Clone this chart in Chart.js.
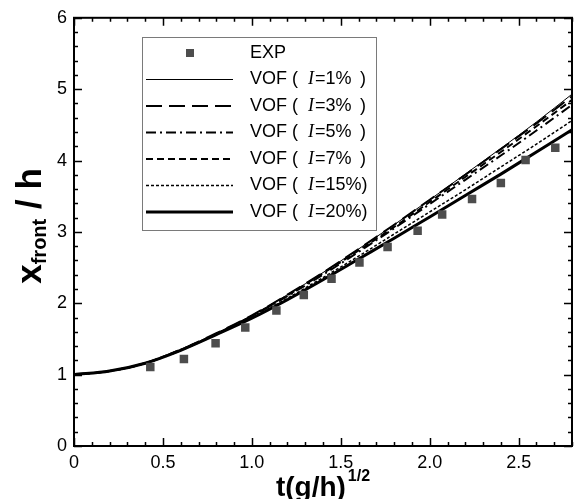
<!DOCTYPE html>
<html>
<head>
<meta charset="utf-8">
<script src="https://cdn.jsdelivr.net/npm/chart.js@4"></script>
<style>
  html, body { margin: 0; padding: 0; background: #fff; }
</style>
</head>
<body>
<canvas id="front-chart" width="578" height="499"></canvas>
<script>
// x positions where the VOF curves were read
const tVals = [0, 0.2, 0.4, 0.6, 0.8, 1.0, 1.2, 1.4, 1.6, 1.8, 2.0, 2.2, 2.4, 2.6, 2.8];
// VOF curves, one per inflow turbulence intensity
const vof1  = [1.00, 1.05, 1.16, 1.35, 1.58, 1.83, 2.12, 2.43, 2.76, 3.10, 3.45, 3.81, 4.17, 4.54, 4.93];
const vof3  = [1.00, 1.05, 1.16, 1.35, 1.58, 1.83, 2.12, 2.43, 2.76, 3.10, 3.45, 3.80, 4.16, 4.52, 4.90];
const vof5  = [1.00, 1.05, 1.16, 1.34, 1.57, 1.82, 2.10, 2.40, 2.72, 3.05, 3.39, 3.73, 4.07, 4.42, 4.78];
const vof7  = [1.00, 1.05, 1.16, 1.35, 1.57, 1.82, 2.11, 2.42, 2.74, 3.07, 3.42, 3.77, 4.12, 4.48, 4.85];
const vof15 = [1.00, 1.05, 1.16, 1.34, 1.56, 1.80, 2.07, 2.36, 2.66, 2.97, 3.28, 3.59, 3.91, 4.23, 4.56];
const vof20 = [1.00, 1.05, 1.16, 1.34, 1.56, 1.79, 2.05, 2.33, 2.62, 2.91, 3.21, 3.51, 3.81, 4.12, 4.43];
// experiment
const expT = [0.429, 0.618, 0.796, 0.963, 1.138, 1.292, 1.448, 1.605, 1.763, 1.932, 2.07, 2.238, 2.40, 2.539, 2.706];
const expX = [1.108, 1.219, 1.44, 1.662, 1.898, 2.115, 2.345, 2.57, 2.79, 3.015, 3.245, 3.46, 3.684, 4.007, 4.18];

const xTicks = [0, 0.5, 1, 1.5, 2, 2.5];
const yTicks = [0, 1, 2, 3, 4, 5, 6];
const intensities = ['1%', '3%', '5%', '7%', '15%', '20%'];

const FONT = '"Liberation Sans", Arial, sans-serif';

const toPts = (xs, ys) => xs.map((v, i) => ({ x: v, y: ys[i] }));

const vofLine = (name, vals, width, dash) => ({
    label: 'VOF ( I=' + name + ' )',
    type: 'line',
    data: toPts(tVals, vals),
    borderColor: '#000',
    borderWidth: width,
    borderDash: dash,
    pointRadius: 0,
    fill: false,
    cubicInterpolationMode: 'monotone'
});

const datasets = [
    {
        label: 'EXP',
        type: 'scatter',
        data: toPts(expT, expX),
        pointStyle: 'rect',
        pointRadius: 6,
        backgroundColor: '#4d4d4d',
        borderColor: '#4d4d4d',
        borderWidth: 0
    },
    vofLine(intensities[0], vof1, 1, []),
    vofLine(intensities[1], vof3, 2, [16, 7]),
    vofLine(intensities[2], vof5, 2, [10, 4, 2, 4]),
    vofLine(intensities[3], vof7, 2, [7, 4]),
    vofLine(intensities[4], vof15, 1.5, [3, 2]),
    vofLine(intensities[5], vof20, 3, [])
];

// ticks pointing inward on all four sides, frame, axis titles and legend
const framePlugin = {
    id: 'frame',
    afterDraw(chart) {
        const { ctx, chartArea: a, scales: { x, y } } = chart;
        ctx.save();
        ctx.strokeStyle = '#000';
        ctx.lineWidth = 1.5;
        ctx.setLineDash([]);
        ctx.beginPath();
        for (let i = 0; i <= 28; i++) {
            const px = Math.round(x.getPixelForValue(i / 10)) + 0.5;
            const len = i % 5 === 0 ? 8 : 4;
            ctx.moveTo(px, a.bottom); ctx.lineTo(px, a.bottom - len);
            ctx.moveTo(px, a.top); ctx.lineTo(px, a.top + len);
        }
        for (let i = 0; i <= 30; i++) {
            const py = Math.round(y.getPixelForValue(i / 5)) + 0.5;
            const len = i % 5 === 0 ? 8 : 4;
            ctx.moveTo(a.left, py); ctx.lineTo(a.left + len, py);
            ctx.moveTo(a.right, py); ctx.lineTo(a.right - len, py);
        }
        ctx.stroke();
        ctx.lineWidth = 2;
        ctx.strokeRect(a.left, a.top, a.right - a.left, a.bottom - a.top);

        // x title: t(g/h)^(1/2)
        ctx.fillStyle = '#000';
        ctx.textBaseline = 'alphabetic';
        ctx.textAlign = 'left';
        ctx.font = 'bold 28px ' + FONT;
        const xMain = 't(g/h)';
        const wMain = ctx.measureText(xMain).width;
        ctx.font = 'bold 16px ' + FONT;
        const wSup = ctx.measureText('1/2').width;
        let tx = (a.left + a.right) / 2 - (wMain + wSup + 2) / 2;
        ctx.font = 'bold 28px ' + FONT;
        ctx.fillText(xMain, tx, 496);
        ctx.font = 'bold 16px ' + FONT;
        ctx.fillText('1/2', tx + wMain + 2, 481);

        // y title: x_front / h
        ctx.save();
        ctx.translate(41, 226);
        ctx.rotate(-Math.PI / 2);
        ctx.font = 'bold 35px ' + FONT;
        const wx = ctx.measureText('x').width;
        const wh = ctx.measureText(' / h').width;
        ctx.font = 'bold 20px ' + FONT;
        const wf = ctx.measureText('front').width;
        let yx = -(wx + wf + wh) / 2;
        ctx.font = 'bold 35px ' + FONT;
        ctx.fillText('x', yx, 0);
        ctx.font = 'bold 20px ' + FONT;
        ctx.fillText('front', yx + wx, 5);
        ctx.font = 'bold 35px ' + FONT;
        ctx.fillText(' / h', yx + wx + wf, 0);
        ctx.restore();

        // legend
        const bx = 142, by = 37, bw = 234, bh = 193;
        ctx.fillStyle = '#fff';
        ctx.fillRect(bx, by, bw, bh);
        ctx.strokeStyle = '#7a7a7a';
        ctx.lineWidth = 1;
        ctx.strokeRect(bx + 0.5, by + 0.5, bw, bh);
        const rowY = i => 53 + i * 26.5;
        chart.data.datasets.forEach((ds, i) => {
            const ry = rowY(i);
            ctx.fillStyle = '#000';
            ctx.textBaseline = 'middle';
            ctx.font = '18px ' + FONT;
            if (i === 0) {
                ctx.fillStyle = ds.backgroundColor;
                ctx.fillRect(186, ry - 4, 8, 8);
                ctx.fillStyle = '#000';
                ctx.fillText('EXP', 250, ry);
                return;
            }
            ctx.strokeStyle = '#000';
            ctx.lineWidth = ds.borderWidth;
            ctx.setLineDash(ds.borderDash);
            ctx.beginPath();
            ctx.moveTo(146, ry);
            ctx.lineTo(233, ry);
            ctx.stroke();
            ctx.setLineDash([]);
            ctx.fillText('VOF (', 250, ry);
            ctx.font = 'italic 18px "Liberation Serif", serif';
            ctx.fillText('I', 308, ry);
            const wi = ctx.measureText('I').width;
            ctx.font = '18px ' + FONT;
            const rest = '=' + intensities[i - 1];
            ctx.fillText(rest, 309 + wi, ry);
            const end = 309 + wi + ctx.measureText(rest).width;
            ctx.fillText(')', Math.max(360, end), ry);
        });
        ctx.restore();
    }
};

const frontChart = new Chart(document.getElementById('front-chart'), {
    type: 'line',
    data: { datasets: datasets },
    options: {
        responsive: false,
        devicePixelRatio: 1,
        animation: false,
        layout: { padding: { left: 0, top: 13, right: 3, bottom: 0 } },
        scales: {
            x: {
                type: 'linear',
                min: 0,
                max: 2.8,
                afterBuildTicks: s => { s.ticks = xTicks.map(v => ({ value: v })); },
                afterFit: s => { s.height = 53; },
                grid: { display: false, drawTicks: false },
                border: { display: false },
                ticks: { padding: 6, color: '#000', font: { family: FONT, size: 18 } }
            },
            y: {
                type: 'linear',
                min: 0,
                max: 6,
                afterBuildTicks: s => { s.ticks = yTicks.map(v => ({ value: v })); },
                afterFit: s => { s.width = 74; },
                grid: { display: false, drawTicks: false },
                border: { display: false },
                ticks: { padding: 7, color: '#000', font: { family: FONT, size: 18 } }
            }
        },
        plugins: {
            legend: { display: false },
            tooltip: { enabled: false }
        }
    },
    plugins: [framePlugin]
});
</script>
</body>
</html>
